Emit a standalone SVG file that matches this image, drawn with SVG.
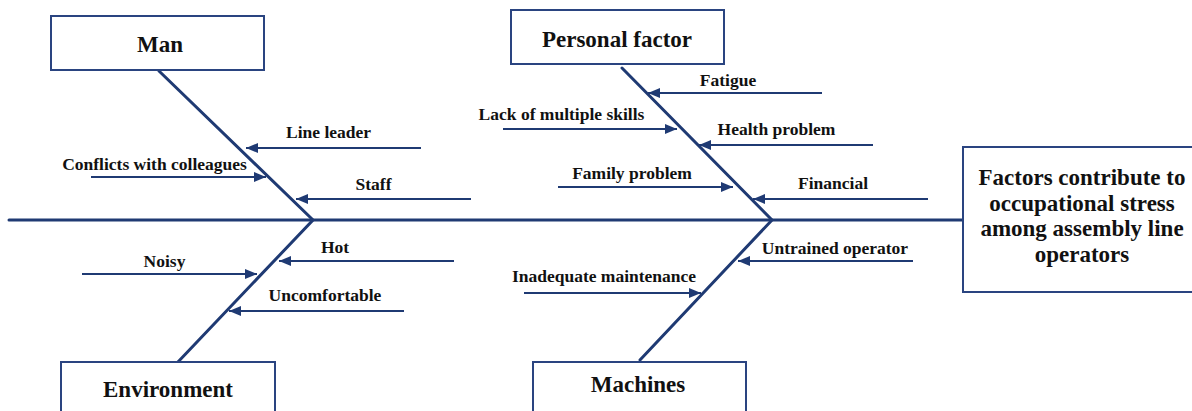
<svg xmlns="http://www.w3.org/2000/svg" width="1192" height="411" viewBox="0 0 1192 411">
<defs>
<style>
.box{fill:#fff;stroke:#2a4480;stroke-width:2}
.bone{stroke:#1f3a73;stroke-width:3;fill:none;stroke-linecap:round}
.arr{stroke:#1f3a73;stroke-width:1.8;fill:none;marker-end:url(#ah)}
text{font-family:'Liberation Serif','Times New Roman',Times,serif;font-weight:bold;fill:#111;text-anchor:middle}
.title{font-size:23px}
.lbl{font-size:17.5px}
</style>
<marker id="ah" markerUnits="userSpaceOnUse" markerWidth="13" markerHeight="11" refX="12" refY="5" orient="auto">
<path d="M0,0 L12,5 L0,10 z" fill="#1f3a73"/>
</marker>
</defs>
<g id="connectors">
<line class="bone" x1="9" y1="220" x2="963" y2="220"/>
<polyline class="bone" points="159,71 313,220 177,363"/>
<polyline class="bone" points="622,68 772,220 640,360"/>
<line class="arr" x1="421" y1="148" x2="246" y2="148"/>
<line class="arr" x1="91" y1="177" x2="266" y2="177"/>
<line class="arr" x1="471" y1="199" x2="296" y2="199"/>
<line class="arr" x1="822" y1="93" x2="648" y2="93"/>
<line class="arr" x1="503" y1="129" x2="677" y2="129"/>
<line class="arr" x1="873" y1="145" x2="699" y2="145"/>
<line class="arr" x1="558" y1="187" x2="733" y2="187"/>
<line class="arr" x1="928" y1="199" x2="753" y2="199"/>
<line class="arr" x1="454" y1="261" x2="279" y2="261"/>
<line class="arr" x1="82" y1="274" x2="257" y2="274"/>
<line class="arr" x1="404" y1="311" x2="229" y2="311"/>
<line class="arr" x1="913" y1="261" x2="738" y2="261"/>
<line class="arr" x1="524" y1="293" x2="701" y2="293"/>
</g>
<g id="labels">
<text class="lbl" x="328.5" y="138">Line leader</text>
<text class="lbl" x="154.5" y="170">Conflicts with colleagues</text>
<text class="lbl" x="373.5" y="190">Staff</text>
<text class="lbl" x="728" y="86">Fatigue</text>
<text class="lbl" x="561.5" y="120">Lack of multiple skills</text>
<text class="lbl" x="776.5" y="135">Health problem</text>
<text class="lbl" x="632" y="179">Family problem</text>
<text class="lbl" x="833" y="189">Financial</text>
<text class="lbl" x="335" y="253">Hot</text>
<text class="lbl" x="164.5" y="267">Noisy</text>
<text class="lbl" x="325" y="301">Uncomfortable</text>
<text class="lbl" x="835" y="254">Untrained operator</text>
<text class="lbl" x="604" y="282">Inadequate maintenance</text>
</g>
<g id="man"><rect class="box" x="51" y="16" width="213" height="54"/><text class="title" x="160" y="52">Man</text></g>
<g id="personal"><rect class="box" x="511" y="10" width="213" height="54"/><text class="title" x="617" y="47">Personal factor</text></g>
<g id="environment"><rect class="box" x="61" y="362" width="214" height="60"/><text class="title" x="168" y="397">Environment</text></g>
<g id="machines"><rect class="box" x="533" y="362" width="213" height="60"/><text class="title" x="638" y="392">Machines</text></g>
<g id="effect"><rect class="box" x="963" y="147" width="240" height="145"/>
<text class="title" x="1082" y="185">Factors contribute to</text>
<text class="title" x="1082" y="210.5">occupational stress</text>
<text class="title" x="1082" y="236">among assembly line</text>
<text class="title" x="1082" y="262">operators</text>
</g>
</svg>
